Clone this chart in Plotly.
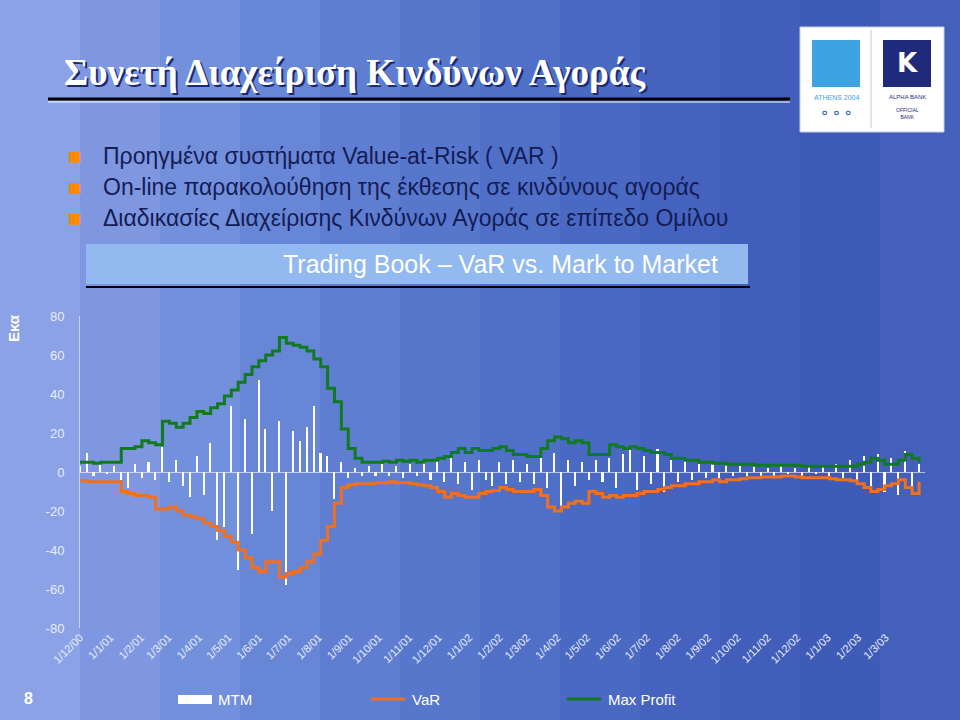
import plotly.graph_objects as go
import pandas as pd

max_profit = [5,5,4.5,5,5,5,12,12,13,16,15,14,26,25,23,25,28,31,30,33,35,39,42,46,50,54,57,60,62,69,
              66,65,64,62,58,54,43,36,22,12,7,5,5,5,5.5,5,6,5.5,6,5,6,6,7,8,10,12,10,12,11,11,
              12,13,11,9,9,8,8,12,16,18,17,15,16,15,9,9,9,14,13,12,13,12,11,10,10,9,7,7,6,6,
              5,5,4.5,4.5,4,4,4,4,3.5,3.5,3.5,3.5,3.5,3.5,3.5,3,3,3,3,3,3,3,3,4,5,7,6,4,4,6,9,7,5]
var = [-4.5,-5,-5,-5,-5,-5,-10,-11,-12,-12,-13,-19,-19,-18,-20,-22,-23,-24,-26,-28,-30,-33,-36,-40,-44,-49,-51,-46,-46,-54,
       -52,-51,-49,-46,-42,-35,-28,-16,-8,-6.5,-6,-6,-6,-5.5,-5.5,-5,-5.5,-5.5,-6,-6.5,-7,-8,-10,-13,-11,-12,-13,-13,-11,-10,
       -9.5,-8,-9,-10,-10,-10,-9,-12,-18,-20,-18,-16,-15,-16,-10,-11,-13,-12,-13,-12,-12,-11,-10,-10,-9,-8,-7,-7,-6,-6,
       -5,-5,-4,-5,-4,-4,-3.5,-3,-3,-2.5,-2.5,-2.5,-2,-2,-2.5,-3,-3,-3,-3,-3.5,-4,-4,-4.5,-6,-8,-10,-9,-7,-6,-4,-8,-11,-5]
mtm = [3,10,-2,4,-1,3,-4,-8,4,-3,5,-4,13,-5,6,-7,-13,8,-12,15,-35,-28,34,-50,27,-32,47,22,-20,26,
       -58,21,16,23,34,10,8,-14,5,-3,2,-2,3,-2,4,-2,3,-3,4,-2,5,-4,6,-5,8,-6,5,-9,6,-4,
       -7,5,-6,6,-5,4,-6,7,-8,10,-20,6,-7,5,-4,6,-5,7,-8,9,12,-9,8,-6,12,-10,6,-5,6,-4,
       4,-3,5,-3,4,-2,3,-2,3,-2,2,-2,3,-1,2,-2,3,-1,3,-2,4,-3,6,-5,8,-7,9,-10,7,-12,11,-8,4]
dates = pd.date_range("2000-12-01", periods=len(var), freq="7D")
tick_dates = pd.date_range("2000-12-01", "2003-03-01", freq="MS")
tick_labels = [f"1/{d.month}/{d.strftime('%y')}" for d in tick_dates]
y_ticks = [-80,-60,-40,-20,0,20,40,60,80]
y_labels = [str(v) for v in y_ticks]

fig = go.Figure()
bg = ["#8ba3e6","#7e97e0","#7390dc","#6886d6","#5f7ed2","#5777cd","#5070c8","#4a69c3","#4563be","#415eba","#3f5bb8","#4460bb"]
w = 960/len(bg)
for i,c in enumerate(bg):
    fig.add_shape(type="rect", xref="paper", yref="paper", x0=i*w/960, x1=(i+1)*w/960+0.002, y0=0, y1=1,
                  fillcolor=c, line_width=0, layer="below")

fig.add_trace(go.Bar(x=dates, y=mtm, marker_color="white", marker_line_width=0, width=1.6*86400000, name="MTM"))
fig.add_trace(go.Scatter(x=dates, y=var, mode="lines", line=dict(color="#f07020", width=3, shape="hv"), name="VaR"))
fig.add_trace(go.Scatter(x=dates, y=max_profit, mode="lines", line=dict(color="#127a1e", width=3, shape="hv"), name="Max Profit"))

def px(x): return x/960
def py(y): return 1-y/720

shapes = [
    dict(type="line", x0=px(48), x1=px(790), y0=py(99), y1=py(99), line=dict(color="black", width=3)),
    dict(type="line", x0=px(48), x1=px(790), y0=py(102), y1=py(102), line=dict(color="white", width=1)),
    dict(type="rect", x0=px(86), x1=px(750), y0=py(286), y1=py(288), fillcolor="black", line_width=0),
    dict(type="rect", x0=px(86), x1=px(748), y0=py(244), y1=py(284), fillcolor="#92b9f0", line_width=0),
    dict(type="rect", x0=px(800), x1=px(944), y0=py(27), y1=py(132), fillcolor="white", line=dict(color="#c8d0e8", width=1)),
    dict(type="line", x0=px(871), x1=px(871), y0=py(30), y1=py(128), line=dict(color="#c0c8e0", width=1)),
    dict(type="rect", x0=px(812), x1=px(860), y0=py(40), y1=py(87), fillcolor="#3ea3e2", line_width=0),
    dict(type="rect", x0=px(883), x1=px(931), y0=py(40), y1=py(87), fillcolor="#1f2b7a", line_width=0),
    dict(type="rect", x0=px(178), x1=px(212), y0=py(695), y1=py(704), fillcolor="white", line_width=0),
    dict(type="line", x0=px(371), x1=px(405), y0=py(699), y1=py(699), line=dict(color="#f07020", width=3)),
    dict(type="line", x0=px(567), x1=px(601), y0=py(699), y1=py(699), line=dict(color="#127a1e", width=3)),
]
for s in shapes:
    s.setdefault("xref","paper"); s.setdefault("yref","paper")
    fig.add_shape(**s)

ann = []
title = "<b>Συνετή Διαχείριση Κινδύνων Αγοράς</b>"
ann.append(dict(x=px(62), y=py(73), text=title,
                font=dict(family="Liberation Serif", size=37, color="white", shadow="2px 2px 0px #1a2a70"),
                xanchor="left", yanchor="middle"))
bullets = ["Προηγμένα συστήματα Value-at-Risk ( VAR )",
           "On-line παρακολούθηση της έκθεσης σε κινδύνους αγοράς",
           "Διαδικασίες Διαχείρισης Κινδύνων Αγοράς σε επίπεδο Ομίλου"]
for i,b in enumerate(bullets):
    y = 156 + i*31
    ann.append(dict(x=px(66), y=py(y), text="■", font=dict(family="DejaVu Sans", size=14, color="#ff8a00"), xanchor="left", yanchor="middle"))
    ann.append(dict(x=px(101), y=py(y), text=b, font=dict(family="Liberation Sans", size=23, color="#141c55"), xanchor="left", yanchor="middle"))
ann.append(dict(x=px(500), y=py(264), text="Trading Book – VaR vs. Mark to Market", font=dict(family="Liberation Sans", size=25, color="white"),
                xanchor="center", yanchor="middle"))
ann.append(dict(x=px(14), y=py(328), text="<b>Εκα</b>", textangle=-90, font=dict(family="Liberation Sans", size=15, color="white"),
                xanchor="center", yanchor="middle"))
ann.append(dict(x=px(28), y=py(698), text="<b>8</b>", font=dict(family="Liberation Sans", size=16, color="white"), xanchor="center", yanchor="middle"))
ann.append(dict(x=px(216), y=py(699), text="MTM", font=dict(family="Liberation Sans", size=15, color="white"), xanchor="left", yanchor="middle"))
ann.append(dict(x=px(410), y=py(699), text="VaR", font=dict(family="Liberation Sans", size=15, color="white"), xanchor="left", yanchor="middle"))
ann.append(dict(x=px(606), y=py(699), text="Max Profit", font=dict(family="Liberation Sans", size=15, color="white"), xanchor="left", yanchor="middle"))
ann.append(dict(x=px(836), y=py(98), text="ATHENS 2004", font=dict(family="Liberation Sans", size=7, color="#3ea3e2"), xanchor="center", yanchor="middle"))
ann.append(dict(x=px(836), y=py(113), text="⚬⚬⚬", font=dict(family="DejaVu Sans", size=14, color="#3060c0"), xanchor="center", yanchor="middle"))
ann.append(dict(x=px(907), y=py(63), text="<b>K</b>", font=dict(family="DejaVu Sans", size=26, color="white"), xanchor="center", yanchor="middle"))
ann.append(dict(x=px(907), y=py(97), text="ALPHA BANK", font=dict(family="Liberation Sans", size=6, color="#1f2b7a"), xanchor="center", yanchor="middle"))
ann.append(dict(x=px(907), y=py(113), text="OFFICIAL<br>BANK", font=dict(family="Liberation Sans", size=5, color="#1f2b7a"), xanchor="center", yanchor="middle"))
for a in ann:
    a.update(xref="paper", yref="paper", showarrow=False)
fig.update_layout(annotations=ann)

fig.update_layout(
    width=960, height=720, margin=dict(l=0, r=0, t=0, b=0, pad=0),
    paper_bgcolor="#5070c8", plot_bgcolor="rgba(0,0,0,0)", showlegend=False, bargap=0,
    xaxis=dict(domain=[px(80), px(925)], range=["2000-12-01", "2003-04-10"], tickvals=tick_dates, ticktext=tick_labels,
               tickangle=-45, tickfont=dict(family="Liberation Sans", size=11, color="#e8ecf8"), showgrid=False,
               zeroline=False, showline=False, ticks="", automargin=False),
    yaxis=dict(domain=[py(628), py(316)], range=[-80, 80], tickvals=y_ticks, ticktext=y_labels,
               tickfont=dict(family="Liberation Sans", size=13, color="#e8ecf8"), showgrid=False,
               zeroline=True, zerolinecolor="rgba(255,255,255,0.6)", zerolinewidth=1,
               showline=True, linecolor="rgba(255,255,255,0.5)", linewidth=1, ticks="", ticklabelstandoff=12,
               automargin=False),
)
fig.write_html("out.html", config={"displayModeBar": False},
               post_script="document.body.style.margin='0';document.body.style.overflow='hidden';")
